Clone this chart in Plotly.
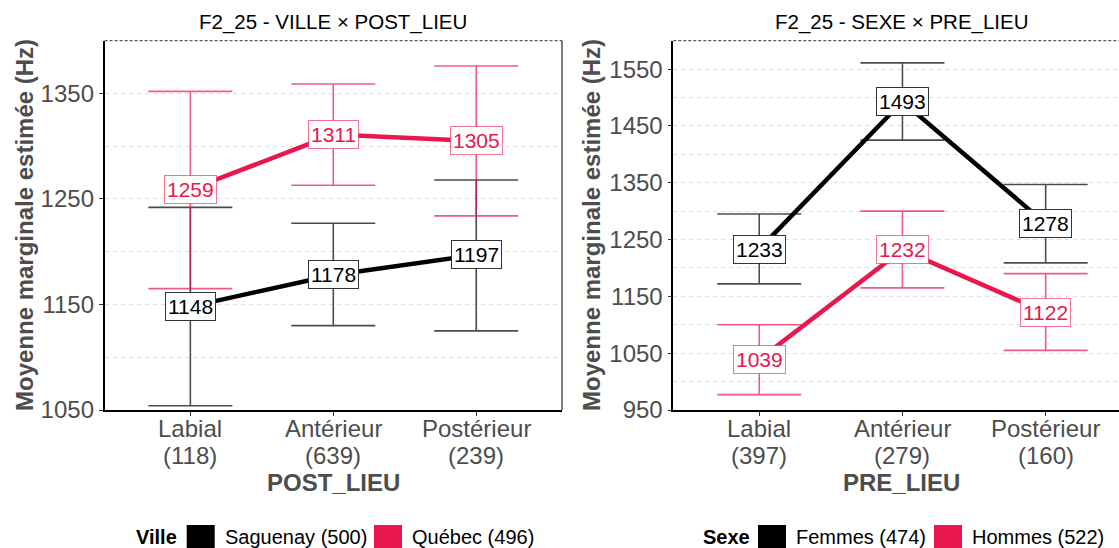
import plotly.graph_objects as go

# categories / counts
lieux = ["Labial", "Antérieur", "Postérieur"]
post_n = [118, 639, 239]
pre_n = [397, 279, 160]

# VILLE x POST_LIEU (means and 95% CI bounds)
sag_mean = [1148, 1178, 1197]
sag_low = [1054, 1130, 1125]
sag_high = [1242, 1227, 1268]
qc_mean = [1259, 1311, 1305]
qc_low = [1165, 1263, 1234]
qc_high = [1352, 1359, 1376]

# SEXE x PRE_LIEU
fem_mean = [1233, 1493, 1278]
fem_low = [1172, 1425, 1209]
fem_high = [1295, 1561, 1347]
hom_mean = [1039, 1232, 1122]
hom_low = [977, 1165, 1055]
hom_high = [1100, 1300, 1190]

ville_labels = ["Saguenay (500)", "Québec (496)"]
sexe_labels = ["Femmes (474)", "Hommes (522)"]

# the capture is squeezed to 548px tall, so the page is made a bit taller
W, H = 1119, 561
REF_W, REF_H = 1119, 548
BLACK = "#000000"
RED = "#E8174D"
FONT = "Liberation Sans, Arial, sans-serif"
GREY = "#4D4D4D"


def px(x):
    return x / REF_W


def py(y):
    return 1 - y / REF_H


fig = go.Figure()


def add_series(means, lows, highs, color, err_color, box_color, xa, ya):
    fig.add_trace(go.Scatter(
        x=lieux, y=means,
        mode="markers",
        marker=dict(size=1, opacity=0),
        error_y=dict(
            type="data", symmetric=False,
            array=[h - m for h, m in zip(highs, means)],
            arrayminus=[m - l for m, l in zip(means, lows)],
            color=err_color, thickness=1.6, width=42,
        ),
        xaxis=xa, yaxis=ya, hoverinfo="skip", showlegend=False,
    ))
    fig.add_trace(go.Scatter(
        x=lieux, y=means,
        mode="lines",
        line=dict(color=color, width=4.5),
        xaxis=xa, yaxis=ya, hoverinfo="skip", showlegend=False,
    ))
    ref = "" if xa == "x" else "2"
    for c, m in zip(lieux, means):
        fig.add_annotation(
            x=c, y=m, xref="x" + ref, yref="y" + ref,
            xanchor="center", yanchor="middle",
            text=str(m), showarrow=False,
            font=dict(family=FONT, size=21, color=color),
            bgcolor="white", bordercolor=box_color, borderwidth=1, borderpad=2,
        )


add_series(sag_mean, sag_low, sag_high, BLACK, "rgba(0,0,0,0.7)", "#333333", "x", "y")
add_series(qc_mean, qc_low, qc_high, RED, "rgba(232,23,77,0.7)", "rgba(232,23,77,0.6)", "x", "y")
add_series(fem_mean, fem_low, fem_high, BLACK, "rgba(0,0,0,0.7)", "#333333", "x2", "y2")
add_series(hom_mean, hom_low, hom_high, RED, "rgba(232,23,77,0.7)", "rgba(232,23,77,0.6)", "x2", "y2")

y_dom = [py(410), py(40.7)]
left_dom = [px(104.6), px(562)]
right_dom = [px(673.3), 1.0]

xcommon = dict(
    type="category", showline=True, linecolor="black", linewidth=1.6,
    ticks="outside", ticklen=4, tickcolor="#333333", tickwidth=1,
    showgrid=False, zeroline=False, showticklabels=False,
)
ycommon = dict(
    showline=True, linecolor="black", linewidth=1.6,
    ticks="outside", ticklen=4, tickcolor="#333333", tickwidth=1,
    showgrid=True, gridcolor="#DDDDDD", gridwidth=1, griddash="4px,4px",
    zeroline=False,
    tickfont=dict(family=FONT, size=24, color=GREY),
)

fig.update_layout(
    width=W, height=H,
    margin=dict(l=0, r=0, t=0, b=0),
    paper_bgcolor="white", plot_bgcolor="white",
    xaxis=dict(xcommon, domain=left_dom, anchor="y", range=[-0.6, 2.6], tickvals=lieux),
    yaxis=dict(ycommon, domain=y_dom, anchor="x", range=[1050, 1400],
               tick0=1050, dtick=100,
               minor=dict(dtick=50, tick0=1050, showgrid=True, gridcolor="#DDDDDD",
                          griddash="4px,4px", ticks="")),
    xaxis2=dict(xcommon, domain=right_dom, anchor="y2", range=[-0.6, 2.512], tickvals=lieux),
    yaxis2=dict(ycommon, domain=y_dom, anchor="x2", range=[950, 1600],
                tick0=950, dtick=100,
                minor=dict(dtick=50, tick0=950, showgrid=True, gridcolor="#DDDDDD",
                           griddash="4px,4px", ticks="")),
)

# category labels with counts (two lines, tighter than plotly's <br> spacing)
for xref, counts in [("x", post_n), ("x2", pre_n)]:
    for c, n in zip(lieux, counts):
        for yy, txt in [(428, c), (455, f"({n})")]:
            fig.add_annotation(x=c, y=py(yy), xref=xref, yref="paper", text=txt,
                               xanchor="center", yanchor="middle", showarrow=False,
                               font=dict(family=FONT, size=24, color=GREY))

# panel borders: dashed top, grey right
for x0, x1 in [(left_dom[0], left_dom[1]), (right_dom[0], right_dom[1])]:
    fig.add_shape(type="line", xref="paper", yref="paper", x0=x0, x1=x1,
                  y0=y_dom[1], y1=y_dom[1], line=dict(color="#333333", width=1, dash="3px,2px"))
fig.add_shape(type="line", xref="paper", yref="paper", x0=left_dom[1], x1=left_dom[1],
              y0=y_dom[0], y1=y_dom[1], line=dict(color="#555555", width=1.5))

# titles
for cx, title, xtitle, ytx in [(333.3, "F2_25 - VILLE × POST_LIEU", "POST_LIEU", 24),
                               (902, "F2_25 - SEXE × PRE_LIEU", "PRE_LIEU", 591)]:
    fig.add_annotation(x=px(cx), y=py(22), xref="paper", yref="paper", text=title,
                       xanchor="center", yanchor="middle",
                       showarrow=False, font=dict(family=FONT, size=20.5, color="black"))
    fig.add_annotation(x=px(cx), y=py(482), xref="paper", yref="paper", text=f"<b>{xtitle}</b>",
                       xanchor="center", yanchor="middle",
                       showarrow=False, font=dict(family=FONT, size=24, color=GREY))
    fig.add_annotation(x=px(ytx), y=py(225), xref="paper", yref="paper",
                       xanchor="center", yanchor="middle",
                       text="<b>Moyenne marginale estimée (Hz)</b>", textangle=-90,
                       showarrow=False, font=dict(family=FONT, size=24, color=GREY))

# legends (swatches run to the bottom edge, as in the reference)
legends = [
    (134, "Ville", [(186.7, ville_labels[0], BLACK), (374, ville_labels[1], RED)]),
    (701, "Sexe", [(758, sexe_labels[0], BLACK), (934, sexe_labels[1], RED)]),
]
for lx, ltitle, items in legends:
    fig.add_annotation(x=px(lx), y=py(537), xref="paper", yref="paper",
                       xanchor="left", yanchor="middle",
                       text=f"<b>{ltitle}</b>", showarrow=False,
                       font=dict(family=FONT, size=20, color="black"))
    for sx, lab, col in items:
        fig.add_shape(type="rect", xref="paper", yref="paper", x0=px(sx), x1=px(sx + 28),
                      y0=0, y1=py(525), fillcolor=col, line=dict(width=0))
        fig.add_annotation(x=px(sx + 36), y=py(537), xref="paper", yref="paper",
                           xanchor="left", yanchor="middle",
                           text=lab, showarrow=False,
                           font=dict(family=FONT, size=20, color="black"))

fig.write_html("out.html", config={"displayModeBar": False},
               post_script="document.body.style.margin = '0';")
